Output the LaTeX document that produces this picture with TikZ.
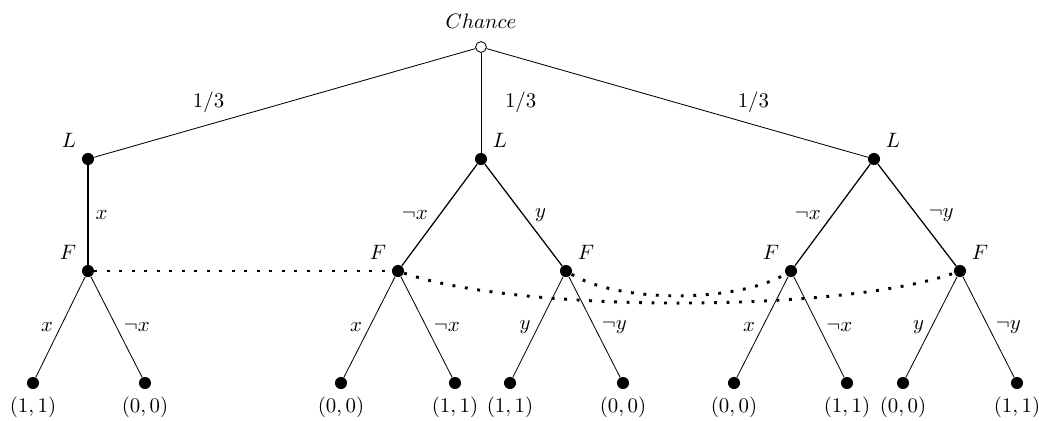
\documentclass[tikz,border=0pt]{standalone}
\usepackage{tikz}
\usetikzlibrary{positioning}

\begin{document}
\begin{tikzpicture}[
x=0.48pt,y=-0.48pt,
chance/.style={circle,draw,fill=white,inner sep=0pt,minimum size=5.2pt},
dec/.style={circle,fill,inner sep=0pt,minimum size=5.8pt},
leaf/.style={circle,fill,inner sep=0pt,minimum size=5.8pt},
move/.style={semithick},
infoset/.style={line width=1.4pt,dash pattern=on 1.4pt off 4.6pt}
]
\useasboundingbox (0,0) rectangle (1039,420);
% chance and first mover
\node[chance,label={[label distance=2.5pt]above:$Chance$}] (c) at (481,47) {};
\node[dec,label=above left:$L$] (l1) at (88,159) {};
\node[dec,label=above right:$L$] (l2) at (481,159) {};
\node[dec,label=above right:$L$] (l3) at (874,159) {};
% second mover
\node[dec,label=above left:$F$] (f1) at (88,271) {};
\node[dec,label=above left:$F$] (f2) at (398,271) {};
\node[dec,label=above right:$F$] (f3) at (566,271) {};
\node[dec,label=above left:$F$] (f4) at (791,271) {};
\node[dec,label=above right:$F$] (f5) at (960,271) {};
% payoffs
\node[leaf,label=below:{$(1,1)$}] (a1) at (33,383) {};
\node[leaf,label=below:{$(0,0)$}] (a2) at (145,383) {};
\node[leaf,label=below:{$(0,0)$}] (a3) at (341,383) {};
\node[leaf,label=below:{$(1,1)$}] (a4) at (455,383) {};
\node[leaf,label=below:{$(1,1)$}] (a5) at (510,383) {};
\node[leaf,label=below:{$(0,0)$}] (a6) at (623,383) {};
\node[leaf,label=below:{$(0,0)$}] (a7) at (734,383) {};
\node[leaf,label=below:{$(1,1)$}] (a8) at (847,383) {};
\node[leaf,label=below:{$(0,0)$}] (a9) at (903,383) {};
\node[leaf,label=below:{$(1,1)$}] (a10) at (1017,383) {};
% moves
\draw (c) -- node[pos=0.7,above=2pt] {$1/3$} (l1);
\draw (c) -- node[pos=0.5,right=8pt] {$1/3$} (l2);
\draw (c) -- node[pos=0.7,above=2pt] {$1/3$} (l3);
\draw[move] (l1) -- node[right] {$x$} (f1);
\draw[move] (l2) -- node[left=2pt] {$\neg x$} (f2);
\draw[move] (l2) -- node[right=2pt] {$y$} (f3);
\draw[move] (l3) -- node[left=2pt] {$\neg x$} (f4);
\draw[move] (l3) -- node[right=2pt] {$\neg y$} (f5);
\draw (f1) -- node[left] {$x$} (a1);
\draw (f1) -- node[right] {$\neg x$} (a2);
\draw (f2) -- node[left] {$x$} (a3);
\draw (f2) -- node[right] {$\neg x$} (a4);
\draw (f3) -- node[left] {$y$} (a5);
\draw (f3) -- node[right] {$\neg y$} (a6);
\draw (f4) -- node[left] {$x$} (a7);
\draw (f4) -- node[right] {$\neg x$} (a8);
\draw (f5) -- node[left] {$y$} (a9);
\draw (f5) -- node[right] {$\neg y$} (a10);
% information sets
\draw[infoset] (f1) -- (f2);
\draw[infoset] (f2) .. controls (520,313) and (840,313) .. (f5);
\draw[infoset] (f3) .. controls (620,303) and (735,303) .. (f4);
\end{tikzpicture}
\end{document}
